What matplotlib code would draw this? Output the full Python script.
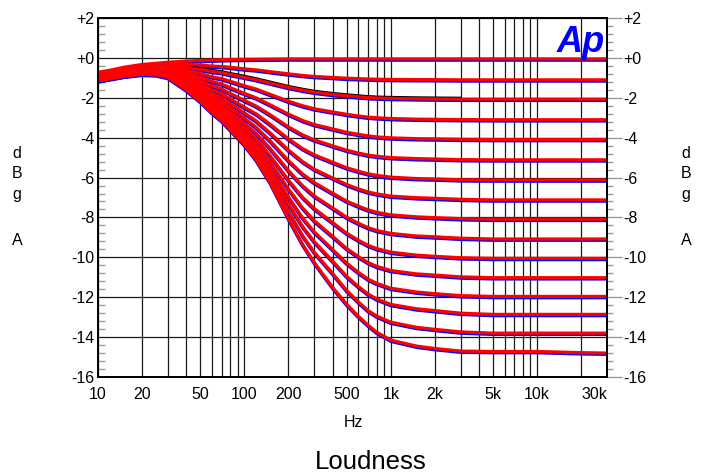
import matplotlib
matplotlib.use('Agg')
import matplotlib.pyplot as plt
from matplotlib.ticker import MultipleLocator, LogLocator, NullFormatter
from matplotlib.transforms import offset_copy

plt.rcParams['font.family'] = ['Liberation Sans', 'DejaVu Sans']
plt.rcParams['axes.unicode_minus'] = False

# frequency points (Hz)
freqs = [10, 12.5, 15, 20, 25, 30, 40, 50, 60, 70, 80, 100, 120, 150, 200, 250,
         300, 400, 500, 600, 700, 800, 1000, 1500, 2000, 3000, 5000, 10000,
         20000, 30000]

# one trace per loudness step (dBgA)
c00 = [-0.72, -0.60, -0.47, -0.33, -0.27, -0.22, -0.16, -0.13, -0.11, -0.09, -0.08, -0.07, -0.065, -0.06, -0.05, -0.05, -0.05, -0.05, -0.05, -0.05, -0.05, -0.05, -0.05, -0.05, -0.05, -0.05, -0.05, -0.05, -0.05, -0.05]
c01 = [-0.78, -0.63, -0.52, -0.37, -0.31, -0.29, -0.32, -0.36, -0.41, -0.43, -0.47, -0.55, -0.60, -0.69, -0.80, -0.88, -0.93, -0.98, -1.02, -1.04, -1.06, -1.07, -1.08, -1.09, -1.09, -1.10, -1.10, -1.10, -1.10, -1.10]
c02 = [-0.83, -0.68, -0.57, -0.43, -0.38, -0.38, -0.47, -0.58, -0.68, -0.74, -0.83, -0.97, -1.09, -1.26, -1.48, -1.62, -1.72, -1.83, -1.90, -1.95, -1.99, -2.01, -2.03, -2.05, -2.06, -2.07, -2.07, -2.07, -2.07, -2.07]
c03 = [-0.88, -0.73, -0.62, -0.48, -0.44, -0.46, -0.62, -0.79, -0.95, -1.04, -1.17, -1.40, -1.56, -1.83, -2.17, -2.40, -2.55, -2.71, -2.83, -2.91, -2.97, -3.00, -3.04, -3.07, -3.08, -3.09, -3.10, -3.10, -3.10, -3.10]
c04 = [-0.92, -0.77, -0.67, -0.53, -0.50, -0.53, -0.76, -0.98, -1.18, -1.31, -1.49, -1.78, -2.00, -2.35, -2.82, -3.14, -3.34, -3.56, -3.73, -3.83, -3.91, -3.96, -4.01, -4.05, -4.06, -4.08, -4.09, -4.09, -4.09, -4.09]
c05 = [-0.95, -0.81, -0.71, -0.57, -0.55, -0.60, -0.88, -1.15, -1.40, -1.56, -1.78, -2.13, -2.41, -2.85, -3.46, -3.86, -4.11, -4.41, -4.63, -4.77, -4.87, -4.93, -5.00, -5.05, -5.07, -5.10, -5.11, -5.11, -5.11, -5.11]
c06 = [-0.98, -0.84, -0.74, -0.61, -0.59, -0.65, -0.99, -1.31, -1.60, -1.79, -2.05, -2.47, -2.80, -3.33, -4.06, -4.55, -4.86, -5.23, -5.51, -5.68, -5.81, -5.89, -5.98, -6.05, -6.07, -6.11, -6.12, -6.12, -6.12, -6.12]
c07 = [-1.01, -0.87, -0.77, -0.64, -0.63, -0.71, -1.09, -1.44, -1.78, -2.00, -2.29, -2.76, -3.15, -3.76, -4.62, -5.20, -5.58, -6.02, -6.35, -6.57, -6.72, -6.82, -6.93, -7.01, -7.04, -7.09, -7.12, -7.12, -7.12, -7.12]
c08 = [-1.04, -0.90, -0.80, -0.67, -0.66, -0.75, -1.17, -1.57, -1.94, -2.18, -2.51, -3.03, -3.47, -4.16, -5.15, -5.82, -6.25, -6.78, -7.18, -7.43, -7.62, -7.74, -7.87, -7.97, -8.01, -8.06, -8.09, -8.09, -8.09, -8.09]
c09 = [-1.06, -0.92, -0.82, -0.70, -0.69, -0.79, -1.25, -1.68, -2.09, -2.35, -2.71, -3.29, -3.77, -4.54, -5.65, -6.41, -6.92, -7.52, -7.99, -8.29, -8.51, -8.65, -8.80, -8.93, -8.97, -9.04, -9.08, -9.08, -9.08, -9.08]
c10 = [-1.08, -0.94, -0.85, -0.72, -0.72, -0.83, -1.32, -1.78, -2.22, -2.51, -2.89, -3.51, -4.04, -4.90, -6.13, -6.99, -7.55, -8.25, -8.79, -9.14, -9.40, -9.56, -9.74, -9.89, -9.95, -10.02, -10.05, -10.05, -10.05, -10.05]
c11 = [-1.10, -0.96, -0.87, -0.74, -0.74, -0.86, -1.38, -1.87, -2.34, -2.64, -3.06, -3.72, -4.30, -5.21, -6.57, -7.52, -8.16, -8.94, -9.56, -9.96, -10.26, -10.45, -10.66, -10.83, -10.89, -10.98, -11.02, -11.02, -11.02, -11.02]
c12 = [-1.11, -0.98, -0.88, -0.76, -0.77, -0.89, -1.44, -1.95, -2.45, -2.77, -3.20, -3.92, -4.52, -5.50, -6.97, -8.02, -8.72, -9.60, -10.29, -10.75, -11.09, -11.30, -11.55, -11.74, -11.82, -11.92, -11.96, -11.96, -11.96, -11.96]
c13 = [-1.13, -0.99, -0.90, -0.78, -0.78, -0.92, -1.48, -2.02, -2.53, -2.87, -3.33, -4.07, -4.71, -5.76, -7.32, -8.45, -9.21, -10.18, -10.95, -11.46, -11.84, -12.08, -12.36, -12.58, -12.67, -12.80, -12.86, -12.86, -12.86, -12.86]
c14 = [-1.14, -1.00, -0.91, -0.79, -0.80, -0.94, -1.53, -2.09, -2.62, -2.97, -3.45, -4.23, -4.90, -6.01, -7.69, -8.91, -9.74, -10.80, -11.66, -12.23, -12.67, -12.94, -13.25, -13.51, -13.61, -13.74, -13.80, -13.80, -13.80, -13.80]
c15 = [-1.15, -1.03, -0.92, -0.82, -0.85, -0.98, -1.60, -2.18, -2.74, -3.15, -3.60, -4.35, -5.10, -6.25, -8.05, -9.35, -10.25, -11.50, -12.35, -12.95, -13.40, -13.75, -14.15, -14.45, -14.57, -14.70, -14.72, -14.72, -14.78, -14.80]

curves = [c00, c01, c02, c03, c04, c05, c06, c07,
          c08, c09, c10, c11, c12, c13, c14, c15]

xticks = [10, 20, 50, 100, 200, 500, 1000, 2000, 5000, 10000, 30000]
xlabels = ['10', '20', '50', '100', '200', '500', '1k', '2k', '5k', '10k', '30k']
yticks = [2, 0, -2, -4, -6, -8, -10, -12, -14, -16]
ylabels = ['+2', '+0', '-2', '-4', '-6', '-8', '-10', '-12', '-14', '-16']
unit_letters = ['d', 'B', 'g', 'A']

fig = plt.figure(figsize=(7.07, 4.73), dpi=100)
ax = fig.add_axes([98 / 707, 1 - 377 / 473, 509 / 707, 359 / 473])

ax.set_xscale('log')
ax.set_xlim(10, 30000)
ax.set_ylim(-16, 2)

# blue channel sits a pixel under the red one
blue_tr = offset_copy(ax.transData, fig=fig, x=0, y=-1.3, units='dots')
black_tr = offset_copy(ax.transData, fig=fig, x=0, y=1.4, units='dots')
for c in curves:
    ax.plot(freqs, c, color='#0000ff', lw=2.3, transform=blue_tr, zorder=3)
ax.plot(freqs[6:26], c02[6:26], color='black', lw=1.6, transform=black_tr, zorder=3)
for c in curves:
    ax.plot(freqs, c, color='#ff0000', lw=2.3, zorder=4)

# grid
ax.xaxis.set_minor_locator(LogLocator(base=10, subs=range(2, 10), numticks=20))
ax.xaxis.set_minor_formatter(NullFormatter())
ax.set_xticks(xticks)
ax.set_xticklabels(xlabels)
ax.get_xticklabels()[-1].set_horizontalalignment('right')
ax.grid(True, which='both', axis='x', color='#1a1a1a', lw=0.9)
ax.grid(True, which='major', axis='y', color='#1a1a1a', lw=0.9)
ax.set_axisbelow(True)
ax.tick_params(axis='x', which='both', length=0, pad=7, labelsize=11.5)

ax.set_yticks(yticks)
ax.set_yticklabels(ylabels)
ax.yaxis.set_minor_locator(MultipleLocator(0.4))
ax.tick_params(axis='y', which='major', length=0, pad=2.5, labelsize=11.5)
ax.tick_params(axis='y', which='minor', direction='in', length=5, width=1, color='#999999')

ax2 = ax.twinx()
ax2.set_ylim(-16, 2)
ax2.set_yticks(yticks)
ax2.set_yticklabels(ylabels)
ax2.yaxis.set_minor_locator(MultipleLocator(0.4))
ax2.tick_params(axis='y', which='major', direction='out', length=11, width=1,
                color='#999999', pad=1, labelsize=11.5)
ax2.tick_params(axis='y', which='minor', direction='out', length=4.5, width=1,
                color='#999999')

for a in (ax, ax2):
    for s in a.spines.values():
        s.set_linewidth(1.3)
        s.set_color('black')

# Ap logo
ax.text(0.997, 0.905, 'Ap', transform=ax.transAxes, ha='right', va='baseline',
        fontsize=26, fontweight='bold', fontstyle='italic', color='#0000ff', zorder=5)

# stacked unit letters at both sides
for letter, ypx in zip(unit_letters, [153, 174, 194, 240]):
    fig.text(17 / 707, 1 - ypx / 473, letter, ha='center', va='center', fontsize=11.5)
    fig.text(686 / 707, 1 - ypx / 473, letter, ha='center', va='center', fontsize=11.5)

fig.text(353 / 707, 1 - 422 / 473, 'Hz', ha='center', va='center', fontsize=11.5)
fig.text(371 / 707, 1 - 462 / 473, 'Loudness', ha='center', va='center', fontsize=18.5)

fig.savefig('out.png', dpi=100)
